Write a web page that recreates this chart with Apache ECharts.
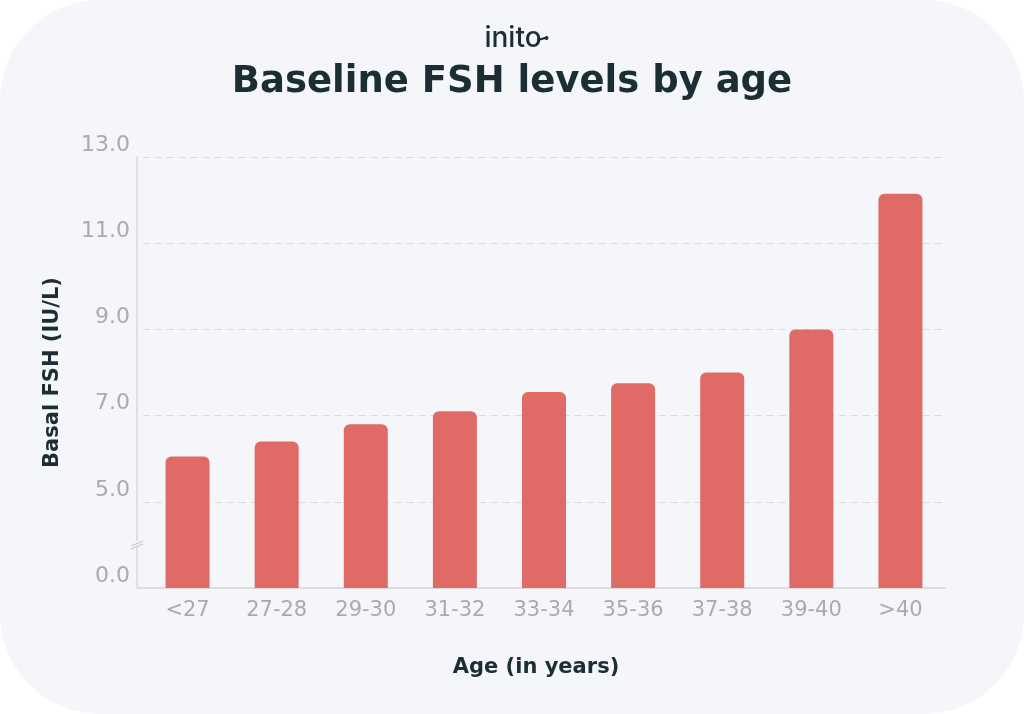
<!DOCTYPE html>
<html>
<head>
<meta charset="utf-8">
<script src="https://cdn.jsdelivr.net/npm/echarts@6/dist/echarts.min.js"></script>
<style>
  html, body { margin: 0; padding: 0; background: #ffffff; }
  #wrap { width: 1024px; height: 714px; background: #f4f6fa; border-radius: 100px; overflow: hidden; }
  #chart { width: 1024px; height: 714px; }
</style>
</head>
<body>
<div id="wrap"><div id="chart"></div></div>
<script>
const categories = ['<27', '27-28', '29-30', '31-32', '33-34', '35-36', '37-38', '39-40', '>40'];
const fshValues = [6.05, 6.4, 6.8, 7.1, 7.55, 7.75, 8.0, 9.0, 12.15];
const gridValues = [5, 7, 9, 11, 13];
const axisBase = 3;          // axis base drawn at the break, labelled 0.0
const baseLabel = '0.0';

const chart = echarts.init(document.getElementById('chart'), null, { renderer: 'canvas' });
const textDark = '#1b2e33';
const tickGrey = '#ababab';
const wideFont = '"DejaVu Sans", sans-serif';

chart.setOption({
  backgroundColor: 'transparent',
  animation: false,
  title: [
    { text: 'inito', left: 508, textAlign: 'center', top: 20,
      textStyle: { fontFamily: 'Inter', fontWeight: 500, fontSize: 28, color: textDark } },
    { text: 'Baseline FSH levels by age', left: 'center', top: 59,
      textStyle: { fontFamily: wideFont, fontWeight: 'bold', fontSize: 37, color: textDark } }
  ],
  grid: { left: 143, right: 79, top: 157, bottom: 126, containLabel: false },
  xAxis: {
    type: 'category',
    data: categories,
    name: 'Age (in years)',
    nameLocation: 'middle',
    nameGap: 69,
    nameTextStyle: { fontFamily: wideFont, fontWeight: 'bold', fontSize: 21, color: textDark, padding: [0, 16, 0, 0] },
    axisLine: { show: true, lineStyle: { color: '#d4d4d4', width: 1.5 } },
    axisTick: { show: false },
    axisLabel: { margin: 12, fontFamily: wideFont, fontSize: 21, color: tickGrey }
  },
  yAxis: {
    type: 'value',
    min: axisBase,
    max: 13,
    interval: 1,
    offset: 6,
    name: 'Basal FSH (IU/L)',
    nameLocation: 'middle',
    nameGap: 74,
    nameTextStyle: { fontFamily: wideFont, fontWeight: 'bold', fontSize: 21, color: textDark },
    axisLine: { show: true, lineStyle: { color: '#d8d8d8', width: 1.5 } },
    axisTick: { show: false },
    splitLine: { show: false },
    axisLabel: {
      margin: 7,
      fontFamily: wideFont, fontSize: 22, color: tickGrey,
      verticalAlign: 'bottom', padding: [0, 0, 1, 0],
      formatter: function (v) {
        if (v === axisBase) return baseLabel;
        return gridValues.indexOf(v) >= 0 ? v.toFixed(1) : '';
      }
    }
  },
  series: [{
    type: 'bar',
    data: fshValues,
    barWidth: 44,
    itemStyle: { color: '#df6a66', borderRadius: [6, 6, 0, 0] },
    markLine: {
      silent: true,
      symbol: 'none',
      label: { show: false },
      lineStyle: { color: '#dcdcdc', type: [7, 5], width: 1 },
      data: gridValues.map(v => ({ yAxis: v })),
      z: 1
    },
    z: 3
  }],
  graphic: [
    { type: 'line', shape: { x1: 137, y1: 588, x2: 143, y2: 588 }, style: { stroke: '#d4d4d4', lineWidth: 1.5 }, z: 50 },
    { type: 'rect', shape: { x: 134, y: 541, width: 6, height: 6 }, style: { fill: '#f4f6fa' }, z: 100 },
    { type: 'line', shape: { x1: 131, y1: 546, x2: 143, y2: 541 }, style: { stroke: '#c8c8c8', lineWidth: 1.2 }, z: 101 },
    { type: 'line', shape: { x1: 131, y1: 549, x2: 143, y2: 544 }, style: { stroke: '#c8c8c8', lineWidth: 1.2 }, z: 101 },
    { type: 'line', shape: { x1: 538, y1: 40, x2: 545, y2: 38 }, style: { stroke: textDark, lineWidth: 2.2, lineCap: 'round' }, z: 101 },
    { type: 'circle', shape: { cx: 546.5, cy: 38, r: 2 }, style: { fill: textDark }, z: 101 }
  ]
});
</script>
</body>
</html>
